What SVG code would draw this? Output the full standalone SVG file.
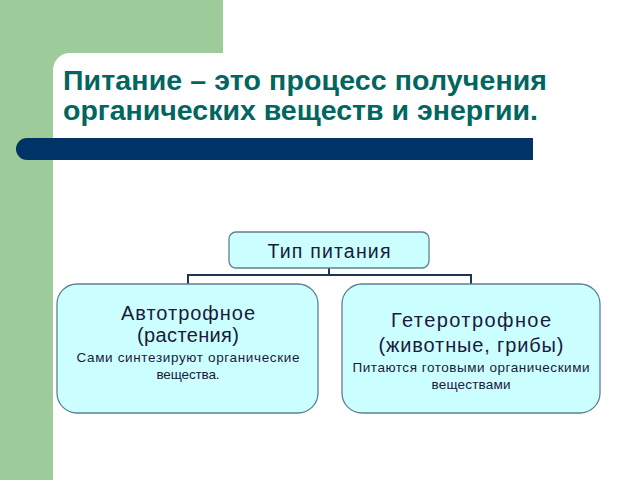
<svg xmlns="http://www.w3.org/2000/svg" width="640" height="480" viewBox="0 0 640 480">
<style>
.title{font-family:"Liberation Sans",Arial,sans-serif;font-weight:bold;font-size:28.5px;fill:#00665f}
.box{fill:#ccffff;stroke:#5f7f94;stroke-width:1.3}
.big{font-family:"Liberation Sans",Arial,sans-serif;font-size:20px;fill:#1a1a40;text-anchor:middle}
.small{font-family:"Liberation Sans",Arial,sans-serif;font-size:13.5px;fill:#1a1a40;text-anchor:middle}
.conn{fill:none;stroke:#1e3556;stroke-width:2}
</style>
<rect x="0" y="0" width="640" height="480" fill="#ffffff"/>
<g id="background">
<rect x="0" y="0" width="223" height="53" fill="#9dcb9a"/>
<rect x="0" y="0" width="53" height="480" fill="#9dcb9a"/>
<path d="M53 53 L53 70 A17 17 0 0 1 70 53 Z" fill="#9dcb9a"/>
<path d="M27 138 L533 138 L533 160 L27 160 A11 11 0 0 1 27 138 Z" fill="#003366"/>
</g>
<g id="title">
<text class="title" x="63" y="90" textLength="484" lengthAdjust="spacing">Питание – это процесс получения</text>
<text class="title" x="63" y="120" textLength="475" lengthAdjust="spacing">органических веществ и энергии.</text>
</g>
<g id="connectors">
<path class="conn" d="M329 268 V275 M188 285 V275 H471 V285"/>
</g>
<g id="node-type">
<rect class="box" x="229" y="232" width="200" height="36" rx="7"/>
<text class="big" x="329" y="258" style="font-size:19.5px" textLength="123" lengthAdjust="spacing">Тип питания</text>
</g>
<g id="node-auto">
<rect class="box" x="57" y="284" width="261" height="129" rx="20"/>
<text class="big" x="188" y="320" textLength="134" lengthAdjust="spacing">Автотрофное</text>
<text class="big" x="188" y="342" textLength="102" lengthAdjust="spacing">(растения)</text>
<text class="small" x="188" y="362" textLength="223" lengthAdjust="spacing">Сами синтезируют органические</text>
<text class="small" x="188" y="379" textLength="63" lengthAdjust="spacing">вещества.</text>
</g>
<g id="node-hetero">
<rect class="box" x="342" y="284" width="258" height="129" rx="20"/>
<text class="big" x="471" y="327" textLength="160" lengthAdjust="spacing">Гетеротрофное</text>
<text class="big" x="471" y="352" textLength="185" lengthAdjust="spacing">(животные, грибы)</text>
<text class="small" x="471" y="372" textLength="237" lengthAdjust="spacing">Питаются готовыми органическими</text>
<text class="small" x="471" y="389" textLength="79" lengthAdjust="spacing">веществами</text>
</g>
</svg>
